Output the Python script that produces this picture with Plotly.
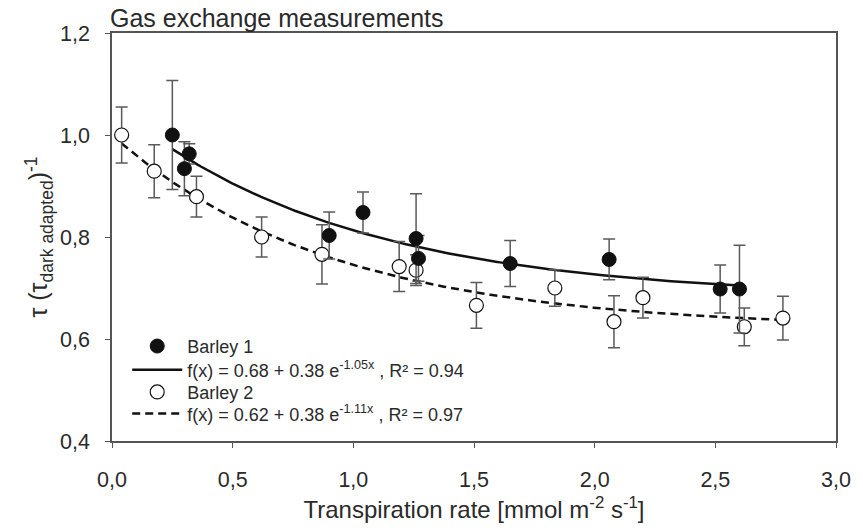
import numpy as np
import plotly.graph_objects as go

# Barley 1 (filled circles)
x1 = [0.25, 0.30, 0.32, 0.90, 1.04, 1.26, 1.27, 1.65, 2.06, 2.52, 2.60]
y1 = [1.000, 0.934, 0.963, 0.803, 0.848, 0.797, 0.758, 0.748, 0.756, 0.698, 0.698]
e1 = [0.107, 0.053, 0.020, 0.046, 0.040, 0.088, 0.045, 0.045, 0.040, 0.047, 0.086]

# Barley 2 (open circles)
x2 = [0.04, 0.175, 0.35, 0.62, 0.87, 1.19, 1.26, 1.51, 1.835, 2.08, 2.20, 2.62, 2.78]
y2 = [1.000, 0.929, 0.879, 0.800, 0.766, 0.742, 0.735, 0.666, 0.700, 0.634, 0.681, 0.624, 0.641]
e2 = [0.055, 0.052, 0.040, 0.039, 0.058, 0.049, 0.030, 0.045, 0.036, 0.051, 0.040, 0.037, 0.043]

# Fit parameters f(x) = a + b*exp(c*x)
fit1 = dict(a=0.68, b=0.38, c=-1.05, r2=0.94)
fit2 = dict(a=0.62, b=0.38, c=-1.11, r2=0.97)

x_ticks = [0.0, 0.5, 1.0, 1.5, 2.0, 2.5, 3.0]
x_ticklabels = ["0,0", "0,5", "1,0", "1,5", "2,0", "2,5", "3,0"]
y_ticks = [0.4, 0.6, 0.8, 1.0, 1.2]
y_ticklabels = ["0,4", "0,6", "0,8", "1,0", "1,2"]

FONT = "Liberation Sans, Arial, sans-serif"
TXT = "#2a2a2a"


def fit_label(f):
    return (f"f(x) = {f['a']:.2f} + {f['b']:.2f} e<sup>{f['c']:.2f}x</sup> , "
            f"R² = {f['r2']:.2f}")


def fit_curve(f, xs):
    xx = np.linspace(min(xs), max(xs), 200)
    return xx, f["a"] + f["b"] * np.exp(f["c"] * xx)


fig = go.Figure()

cx1, cy1 = fit_curve(fit1, x1)
cx2, cy2 = fit_curve(fit2, x2)

fig.add_trace(go.Scatter(x=cx1, y=cy1, mode="lines", name=fit_label(fit1),
                         line=dict(color="#111111", width=2.5), legend="legend2"))
fig.add_trace(go.Scatter(x=cx2, y=cy2, mode="lines", name=fit_label(fit2),
                         line=dict(color="#111111", width=2.5, dash="8px,5px"),
                         legend="legend4"))

fig.add_trace(go.Scatter(
    x=x2, y=y2, mode="markers", name="Barley 2", legend="legend3",
    marker=dict(symbol="circle", size=14, color="white",
                line=dict(color="#111111", width=1.2)),
    error_y=dict(type="data", array=e2, color="#5a5a5a", thickness=1.5, width=6)))

fig.add_trace(go.Scatter(
    x=x1, y=y1, mode="markers", name="Barley 1", legend="legend",
    marker=dict(symbol="circle", size=14, color="#111111",
                line=dict(color="#111111", width=1)),
    error_y=dict(type="data", array=e1, color="#5a5a5a", thickness=1.5, width=6)))

leg_common = dict(x=0.021, xanchor="left", yanchor="middle",
                  bgcolor="rgba(0,0,0,0)", borderwidth=0,
                  font=dict(size=18, color=TXT, family=FONT),
                  itemwidth=50)

fig.update_layout(
    width=863, height=531,
    margin=dict(l=112, r=27, t=33, b=83),
    paper_bgcolor="white", plot_bgcolor="white",
    font=dict(family=FONT, color=TXT, size=21),
    title=dict(text="Gas exchange measurements", x=110 / 863, xanchor="left",
               y=1 - 18.5 / 531, yanchor="middle",
               font=dict(size=25, color=TXT, family=FONT)),
    showlegend=True,
    legend=dict(y=0.232, **leg_common),
    legend2=dict(y=0.174, **leg_common),
    legend3=dict(y=0.1195, **leg_common),
    legend4=dict(y=0.0665, **leg_common),
)

fig.update_xaxes(range=[0, 3], tickvals=x_ticks, ticktext=x_ticklabels,
                 showline=True, linecolor="#555555", linewidth=1.5,
                 mirror=True, ticks="outside", ticklen=5, tickcolor="#555555",
                 showgrid=False, zeroline=False, ticklabelstandoff=13,
                 tickfont=dict(size=21.5, color=TXT),
                 title=dict(text="Transpiration rate [mmol m<sup>-2</sup> s<sup>-1</sup>]",
                            font=dict(size=24, color=TXT), standoff=11))
fig.update_yaxes(range=[0.4, 1.2], tickvals=y_ticks, ticktext=y_ticklabels,
                 showline=True, linecolor="#555555", linewidth=1.5,
                 mirror=True, ticks="outside", ticklen=5, tickcolor="#555555",
                 showgrid=False, zeroline=False, ticklabelstandoff=11,
                 tickfont=dict(size=21.5, color=TXT),
                 title=dict(text="\u00a0\u00a0\u00a0\u00a0τ (τ<sub>dark adapted</sub>)<sup>-1</sup>",
                            font=dict(size=25, color=TXT), standoff=5))

fig.write_html("out.html")
